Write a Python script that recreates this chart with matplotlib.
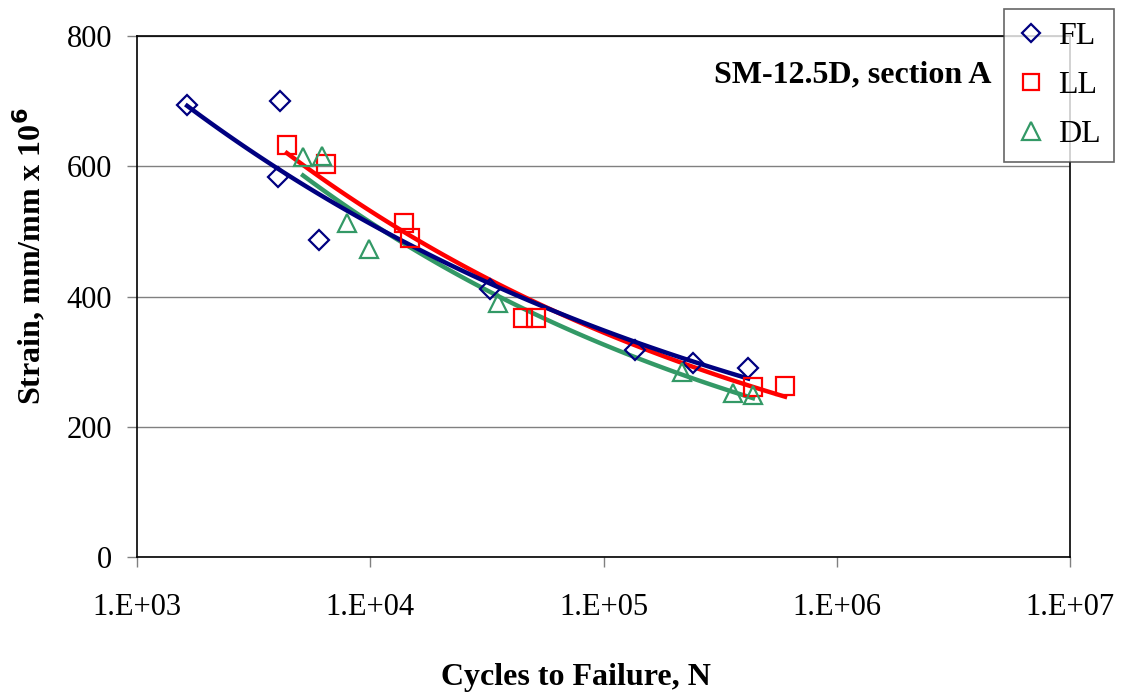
import matplotlib.pyplot as plt
import numpy as np
import matplotlib as mpl
mpl.rc('font', family='Liberation Serif', size='22')

# --- data
fl_n = [1640, 4100, 4030, 6030, 32600, 136500, 242000, 417000]
fl_strain = [694, 700, 584, 487, 412, 318, 298, 290]

ll_n = [4390, 6460, 13970, 14800, 45200, 51400, 437000, 600000]
ll_strain = [633, 604, 513, 490, 367, 367, 261, 263]

dl_n = [5150, 6210, 7950, 9880, 35300, 217000, 359000, 437000]
dl_strain = [614, 616, 513, 473, 390, 284, 252, 249]

x_ticks = [1e3, 1e4, 1e5, 1e6, 1e7]
x_tick_labels = ['1.E+03', '1.E+04', '1.E+05', '1.E+06', '1.E+07']
y_ticks = [0, 200, 400, 600, 800]


def power_trend(n, s):
    # excel style power trendline: ln(s) = ln(a) + b ln(n)
    b, lna = np.polyfit(np.log(n), np.log(s), 1)
    xx = np.logspace(np.log10(min(n)), np.log10(max(n)), 100)
    return xx, np.exp(lna) * xx ** b


fig, ax = plt.subplots(figsize=(11.24, 6.96), dpi=100)
plt.subplots_adjust(left=0.1219, right=0.952, top=0.948, bottom=0.1997)

ax.set_xscale('log')
ax.set_xlim([1e3, 1e7])
ax.set_ylim([0, 800])
ax.set_xticks(x_ticks)
ax.set_xticklabels(x_tick_labels)
ax.minorticks_off()
ax.set_yticks(y_ticks)
ax.tick_params(direction='out', length=7, width=1, color='gray')
ax.tick_params(axis='x', pad=19)
ax.tick_params(axis='y', pad=11)
ax.yaxis.grid(True, color='#808080', linewidth=1)
ax.set_axisbelow(True)
for sp in ax.spines.values():
    sp.set_linewidth(1.2)
    sp.set_color('black')

ax.set_ylabel('Strain, mm/mm x 10$^{\\mathbf{6}}$', fontweight='bold', fontsize=23)
ax.yaxis.set_label_coords(-0.0965, 0.577)
ax.set_xlabel('Cycles to Failure, N', fontweight='bold', fontsize=23)
ax.xaxis.set_label_coords(0.47, -0.203)

# trendlines
xx, yy = power_trend(ll_n, ll_strain)
ax.plot(xx, yy, color='#ff0000', linewidth=3.2, zorder=3)
xx, yy = power_trend(dl_n, dl_strain)
ax.plot(xx, yy, color='#339966', linewidth=3.2, zorder=3)
xx, yy = power_trend(fl_n, fl_strain)
ax.plot(xx, yy, color='#000080', linewidth=3.2, zorder=3)

# data points
ax.plot(fl_n, fl_strain, linestyle='none', marker='D', markersize=10, markerfacecolor='none',
        markeredgecolor='#000080', markeredgewidth=1.6, label='FL', zorder=4)
ax.plot(ll_n, ll_strain, linestyle='none', marker='s', markersize=12.5, markerfacecolor='none',
        markeredgecolor='#ff0000', markeredgewidth=1.6, label='LL', zorder=4)
ax.plot(dl_n, dl_strain, linestyle='none', marker='^', markersize=13, markerfacecolor='none',
        markeredgecolor='#339966', markeredgewidth=1.6, label='DL', zorder=4)

ax.text(0.916, 0.925, 'SM-12.5D, section A', transform=ax.transAxes, ha='right', va='center',
        fontweight='bold', fontsize=23)

leg = fig.legend(loc='upper left', bbox_to_anchor=(1004 / 1124, 1 - 9 / 696), fontsize=23,
                 frameon=True, fancybox=False, handlelength=0.9, handletextpad=0.4,
                 borderpad=0.4, labelspacing=0.62, markerscale=0.95, borderaxespad=0)
leg.get_frame().set_edgecolor('#404040')
leg.get_frame().set_linewidth(1.2)

plt.savefig('out.png', dpi=100)
